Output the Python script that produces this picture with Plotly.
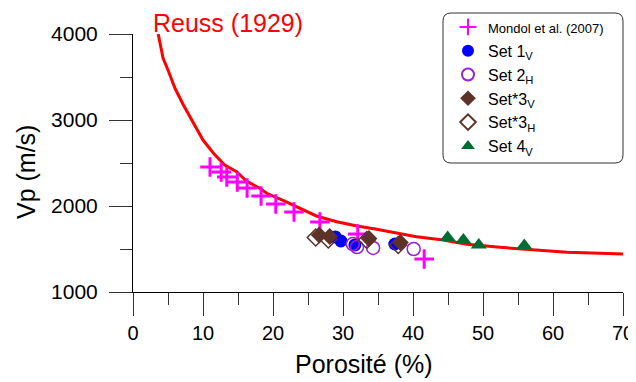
import plotly.graph_objects as go

# ---- data ----
reuss_phi = [3.6, 4.3, 5.0, 6.0, 7.2, 8.6, 10.0, 11.5, 13.1, 14.8, 16.2, 18.1, 19.1, 21.5,
             23.9, 26.2, 29.1, 32.0, 34.8, 37.7, 40.5, 44.3, 47.7, 52.4, 57.2, 62.0, 66.7, 70.0]
reuss_vp = [4000, 3717, 3581, 3369, 3174, 2962, 2767, 2613, 2477, 2399, 2291, 2206, 2148, 2062,
            1973, 1884, 1817, 1767, 1729, 1683, 1643, 1605, 1555, 1520, 1488, 1462, 1450, 1442]

mondol_phi = [11.0, 12.6, 13.4, 14.9, 16.3, 18.3, 20.4, 23.0, 26.7, 32.1, 41.6]
mondol_vp = [2453, 2395, 2337, 2279, 2209, 2116, 2023, 1930, 1814, 1674, 1384]

set1v_phi = [28.9, 29.7, 31.7, 37.4]
set1v_vp = [1640, 1593, 1547, 1558]

set2h_phi = [31.4, 32.0, 34.3, 40.1]
set2h_vp = [1558, 1523, 1512, 1500]

set3v_phi = [26.6, 28.1, 33.7, 38.2]
set3v_vp = [1663, 1645, 1622, 1576]

set3h_phi = [26.1, 27.9, 33.4, 37.9]
set3h_vp = [1634, 1610, 1605, 1547]

set4v_phi = [44.95, 47.2, 49.4, 55.9]
set4v_vp = [1634, 1605, 1547, 1541]

x_ticks = [0, 10, 20, 30, 40, 50, 60, 70]
y_ticks = [1000, 2000, 3000, 4000]

FONT = "Liberation Sans, Arial, sans-serif"
BROWN = "#5C3229"
PURPLE = "#9B1FD6"
GREEN = "#006B33"

fig = go.Figure()

fig.add_trace(go.Scatter(x=reuss_phi, y=reuss_vp, mode="lines",
                         line=dict(color="#FF0000", width=3), showlegend=False,
                         hoverinfo="skip"))

fig.add_trace(go.Scatter(x=mondol_phi, y=mondol_vp, mode="markers",
                         name='<span style="font-size:13px">Mondol et al. (2007)</span>',
                         legendrank=1,
                         marker=dict(symbol="cross-thin", size=14,
                                     line=dict(width=3, color="#FF00FF"), color="#FF00FF")))
fig.add_trace(go.Scatter(x=set1v_phi, y=set1v_vp, mode="markers",
                         name="Set 1<sub>V</sub>", legendrank=2,
                         marker=dict(symbol="circle", size=13, color="#0000FF")))
fig.add_trace(go.Scatter(x=set2h_phi, y=set2h_vp, mode="markers",
                         name="Set 2<sub>H</sub>", legendrank=3,
                         marker=dict(symbol="circle-open", size=13,
                                     line=dict(width=1.5, color=PURPLE), color=PURPLE)))
fig.add_trace(go.Scatter(x=set3h_phi, y=set3h_vp, mode="markers",
                         name="Set*3<sub>H</sub>", legendrank=5,
                         marker=dict(symbol="diamond-open", size=13,
                                     line=dict(width=1.5, color=BROWN), color=BROWN)))
fig.add_trace(go.Scatter(x=set3v_phi, y=set3v_vp, mode="markers",
                         name="Set*3<sub>V</sub>", legendrank=4,
                         marker=dict(symbol="diamond", size=13, color=BROWN)))
fig.add_trace(go.Scatter(x=set4v_phi, y=set4v_vp, mode="markers",
                         name="Set 4<sub>V</sub>", legendrank=6,
                         marker=dict(symbol="triangle-up", size=14, color=GREEN)))

# the page body has an 8px margin: build the figure 8px smaller and offset
OFF = 8
W, H = 636 - OFF, 382 - OFF
L, R, T, B = 133 - OFF, 13, 34 - OFF, 90
pw, ph = W - L - R, H - T - B

def px(xp):
    return (xp - OFF - L) / pw

def py(yp):
    return (H + OFF - B - yp) / ph

# rounded legend box
x0, x1, y0, y1 = px(443), px(623), py(163), py(13)
rx, ry = 8 / pw, 8 / ph
path = (f"M {x0+rx},{y0} L {x1-rx},{y0} Q {x1},{y0} {x1},{y0+ry} "
        f"L {x1},{y1-ry} Q {x1},{y1} {x1-rx},{y1} L {x0+rx},{y1} "
        f"Q {x0},{y1} {x0},{y1-ry} L {x0},{y0+ry} Q {x0},{y0} {x0+rx},{y0} Z")
fig.add_shape(type="path", path=path, xref="paper", yref="paper",
              line=dict(color="#333333", width=1), fillcolor="rgba(0,0,0,0)",
              layer="above")

axis_common = dict(showline=True, linecolor="black", linewidth=1, showgrid=False,
                   zeroline=False, ticks="outside", ticklen=23, tickwidth=1,
                   tickcolor="#333333", mirror=False, automargin=False)

fig.update_xaxes(range=[0, 70], tickvals=x_ticks, ticktext=[str(v) for v in x_ticks],
                 tickfont=dict(family=FONT, size=20, color="black"),
                 minor=dict(dtick=5, tick0=0, ticklen=12, ticks="outside",
                            tickcolor="#333333", tickwidth=1, showgrid=False),
                 **axis_common)
fig.update_yaxes(range=[1000, 4000], tickvals=y_ticks, ticktext=[str(v) for v in y_ticks],
                 tickfont=dict(family=FONT, size=21, color="black"),
                 ticklabelstandoff=7,
                 minor=dict(dtick=500, tick0=0, ticklen=12, ticks="outside",
                            tickcolor="#333333", tickwidth=1, showgrid=False),
                 **axis_common)

fig.add_annotation(text="Porosité (%)", xref="paper", yref="paper",
                   x=px(364), y=py(364), xanchor="center", yanchor="middle",
                   showarrow=False, font=dict(family=FONT, size=25, color="black"))
fig.add_annotation(text="Vp (m/s)", xref="paper", yref="paper",
                   x=px(26), y=py(172), xanchor="center", yanchor="middle",
                   textangle=-90, showarrow=False,
                   font=dict(family=FONT, size=25, color="black"))
fig.add_annotation(text="Reuss (1929)", xref="paper", yref="paper",
                   x=px(151), y=py(23), xanchor="left", yanchor="middle", showarrow=False,
                   font=dict(family=FONT, size=25, color="#FF0000"))

fig.update_layout(
    width=W, height=H,
    margin=dict(l=L, r=R, t=T, b=B, autoexpand=False),
    plot_bgcolor="white", paper_bgcolor="white",
    font=dict(family=FONT, size=17, color="black"),
    legend=dict(x=px(448), y=py(10), xanchor="left", yanchor="top",
                bgcolor="rgba(0,0,0,0)", borderwidth=0,
                font=dict(family=FONT, size=16, color="black"),
                tracegroupgap=0, itemsizing="constant"),
)

fig.write_html("out.html")
